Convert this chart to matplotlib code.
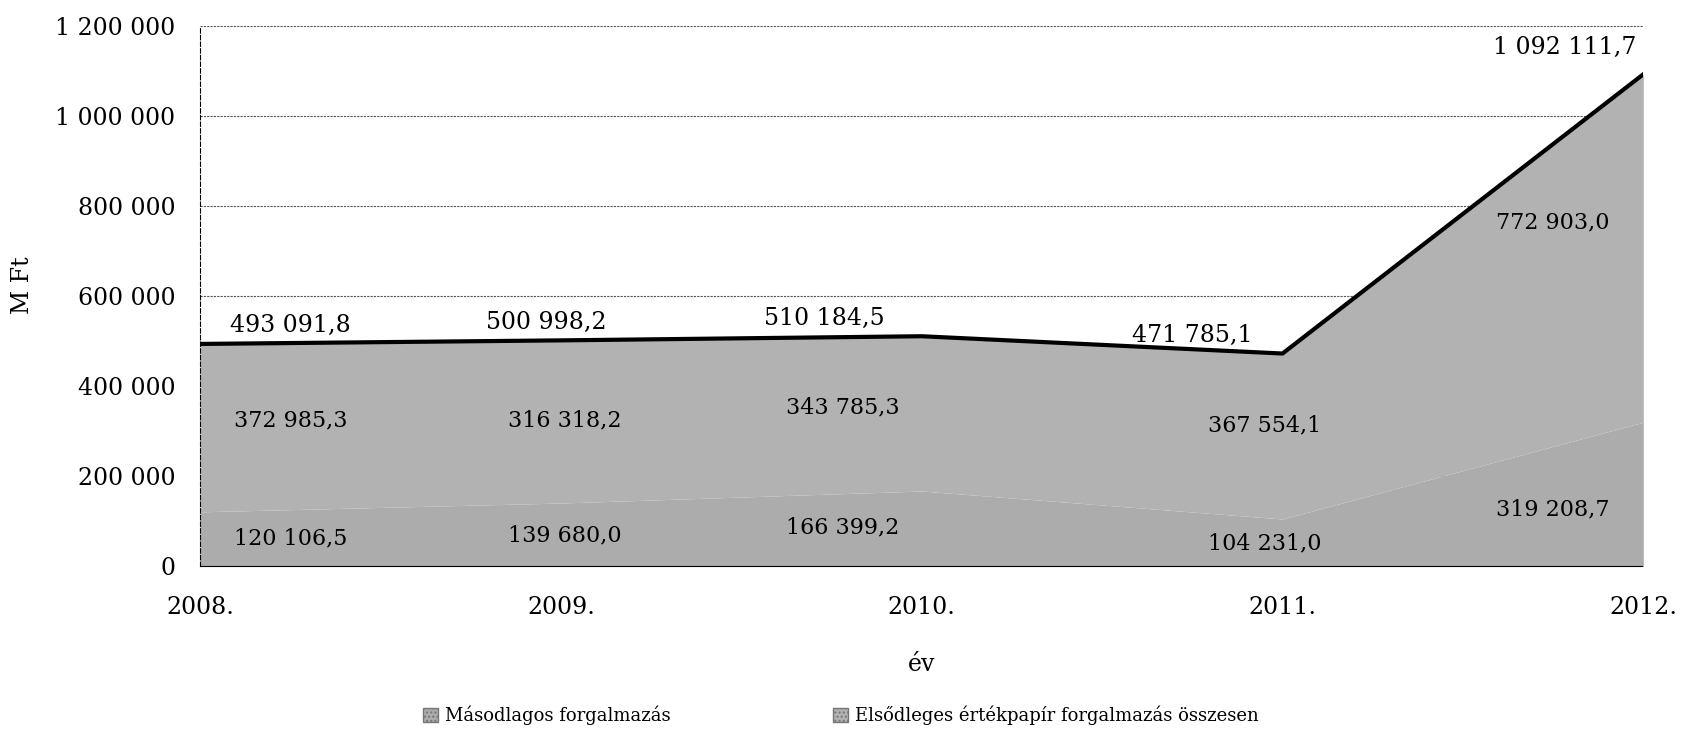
import numpy as np
import matplotlib as mpl
import matplotlib.pyplot as plt
import matplotlib.patches as mpatches

plt.rcParams['font.family'] = ['DejaVu Serif']

years = [2008, 2009, 2010, 2011, 2012]
year_labels = ['2008.', '2009.', '2010.', '2011.', '2012.']
masodlagos = [120106.5, 139680.0, 166399.2, 104231.0, 319208.7]
elsodleges = [372985.3, 316318.2, 343785.3, 367554.1, 772903.0]
osszesen = [493091.8, 500998.2, 510184.5, 471785.1, 1092111.7]
series_names = ['Másodlagos forgalmazás', 'Elsődleges értékpapír forgalmazás összesen']

def hu(v):
    s = f'{v:,.1f}'
    return s.replace(',', ' ').replace('.', ',')

fig = plt.figure(figsize=(16.82, 7.34), dpi=100)
ax = fig.add_axes([0.119, 0.229, 0.858, 0.736])

x = np.array(years)
bottom = np.array(masodlagos)
# the upper band reaches the total line, as in the original
ax.fill_between(x, 0, bottom, color='#acacac', lw=0, zorder=2)
ax.fill_between(x, bottom, osszesen, color='#b2b2b2', lw=0, zorder=2)
ax.plot(x, osszesen, color='black', lw=3, zorder=3)

ax.set_xlim(2008, 2012)
ax.set_ylim(0, 1200000)
yt = np.arange(0, 1200001, 200000)
ax.set_yticks(yt)
ax.set_yticklabels([f'{int(v):,}'.replace(',', ' ') for v in yt])
ax.set_xticks(years)
ax.set_xticklabels(year_labels)
ax.tick_params(labelsize=17, length=0)
ax.tick_params(axis='x', pad=22)
ax.tick_params(axis='y', pad=18)
ax.grid(axis='y', ls=(0, (2, 1)), color='#555555', lw=0.8, zorder=1)
for s in ['top', 'right']:
    ax.spines[s].set_visible(False)
ax.spines['left'].set_linestyle((0, (4, 2)))
ax.spines['left'].set_linewidth(0.8)
ax.spines['bottom'].set_linestyle((0, (2, 1)))
ax.spines['bottom'].set_linewidth(0.8)
ax.set_ylabel('M Ft', fontsize=17)
ax.yaxis.set_label_coords(-0.115, 0.52)
ax.set_xlabel('év', fontsize=17, labelpad=24)

# value labels
tot_x = [2008.25, 2008.96, 2009.73, 2010.75, 2011.98]
for xi, v in zip(tot_x, osszesen):
    ha = 'right' if xi > 2011.5 else 'center'
    off = 35000 if xi > 2011.5 else 15000
    ax.text(xi, v + off, hu(v), ha=ha, va='bottom', fontsize=17, zorder=4)
mid_x = [2008.25, 2009.01, 2009.78, 2010.95, 2011.75]
mid_y = [324000, 324000, 352000, 312000, 764000]
for xi, yi, v in zip(mid_x, mid_y, elsodleges):
    ax.text(xi, yi, hu(v), ha='center', va='center', fontsize=16, zorder=4)
low_y = [60000, 67000, 86000, 50000, 126000]
for xi, yi, v in zip(mid_x, low_y, masodlagos):
    ax.text(xi, yi, hu(v), ha='center', va='center', fontsize=16, zorder=4)

handles = [mpatches.Patch(facecolor='#acacac', edgecolor='#777777', hatch='....'),
           mpatches.Patch(facecolor='#b2b2b2', edgecolor='#777777', hatch='....')]
fig.legend(handles, series_names, loc='center', bbox_to_anchor=(0.5, 0.025), ncol=2,
           frameon=False, fontsize=13, handlelength=0.8, handleheight=0.8,
           columnspacing=9, handletextpad=0.4)

fig.savefig('out.png', dpi=100)
